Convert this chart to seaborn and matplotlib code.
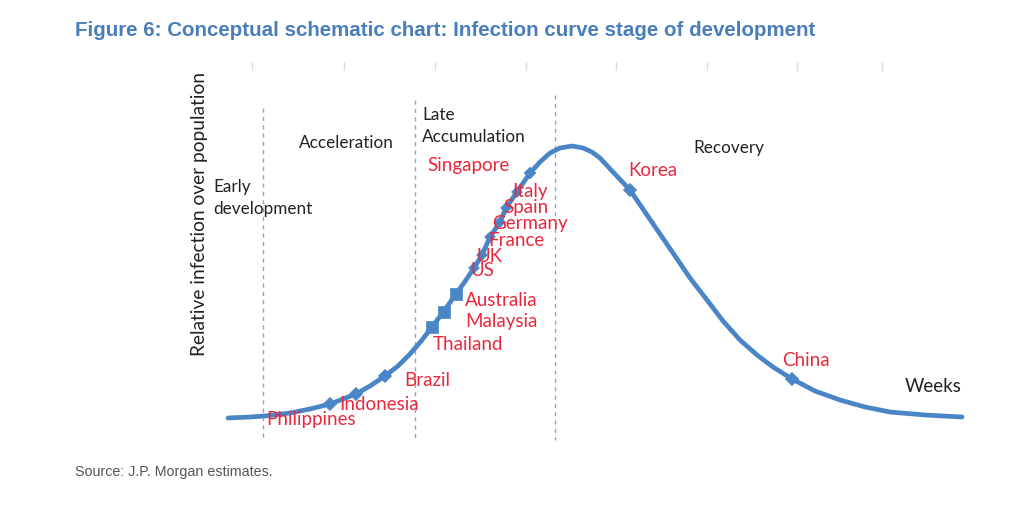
import numpy as np
import matplotlib
matplotlib.use("Agg")
import matplotlib.pyplot as plt
import pandas as pd
import seaborn as sns

# curve (x = time axis, y = height on page, downwards)
curve_x = [228, 250, 265, 290, 310, 330, 356, 370, 385, 398, 410, 422, 432, 444, 456, 466,
           474, 482, 490, 500, 506, 517, 530, 540, 550, 560, 572, 583, 592, 600, 613, 630,
           645, 660, 673, 690, 707, 723, 740, 757, 773, 792, 815, 840, 865, 890, 925, 962]
curve_y = [418, 417, 416, 413, 409, 404, 394, 386, 376, 366, 354, 340, 327, 311, 294, 280,
           268, 255, 237, 222, 208, 192, 173, 162, 153, 148, 146, 148, 152, 158, 172, 190,
           212, 234, 253, 278, 300, 321, 340, 355, 367, 379, 391, 400, 407, 412, 415, 417]

# countries on the curve
countries = ["Philippines", "Indonesia", "Brazil", "Thailand", "Malaysia", "Australia",
             "US", "UK", "France", "Germany", "Spain", "Italy", "Singapore", "Korea", "China"]
country_x = [330, 356, 385, 432, 444, 456, 474, 482, 490, 500, 506, 517, 530, 630, 792]
country_y = [404, 394, 376, 327, 312, 294, 268, 255, 237, 222, 208, 192, 173, 190, 379]
marker_kind = ["D", "D", "D", "s", "s", "s", "D", "D", "D", "D", "D", "D", "D", "D", "D"]
marker_size = [45, 45, 45, 75, 75, 75, 30, 30, 30, 30, 30, 30, 35, 45, 45]
label_x = [266, 339, 404, 433, 465, 465, 471, 476, 488, 492, 503, 512, 427, 628, 782]
label_y = [420, 404, 380, 344, 322, 301, 271, 256, 240, 224, 207, 191, 165, 171, 361]

# stage boundaries and labels
stage_x = [263, 415, 555]
stage_top = [108, 100, 95]
stages = ["Early\ndevelopment", "Acceleration", "Late\nAccumulation", "Recovery"]
stage_lx = [213, 299, 422, 693]
stage_ly = [198, 143, 126, 148]

top_ticks = [252, 344, 435, 526, 616, 707, 797, 882]

blue = "#4a86c5"
red = "#e8283c"

sns.set_theme(style="white")
plt.rcParams["font.family"] = ["Lato", "DejaVu Sans"]

fig = plt.figure(figsize=(10.24, 5.07), dpi=100)
ax = fig.add_axes([0, 0, 1, 1])
ax.set_xlim(0, 1024)
ax.set_ylim(507, 0)
ax.axis("off")

for sx, st in zip(stage_x, stage_top):
    ax.plot([sx, sx], [st, 440], ls=(0, (3, 3)), color="#8aa6cc", lw=1.0)

for tx in top_ticks:
    ax.plot([tx, tx], [62, 70], color="#dcdcdc", lw=1.0)

df = pd.DataFrame({"x": curve_x, "y": curve_y})
sns.lineplot(data=df, x="x", y="y", sort=False, ax=ax, color=blue, lw=3.4,
             solid_capstyle="round", solid_joinstyle="round")

pts = pd.DataFrame({"x": country_x, "y": country_y, "m": marker_kind, "s": marker_size})
for m in ["D", "s"]:
    sub = pts[pts["m"] == m]
    sns.scatterplot(data=sub, x="x", y="y", marker=m, s=sub["s"], color=blue,
                    edgecolor=blue, linewidth=0.5, ax=ax, zorder=5)

for name, lx, ly in zip(countries, label_x, label_y):
    ax.text(lx, ly, name, color=red, fontsize=13.5, va="center", ha="left", zorder=6)

for name, lx, ly in zip(stages, stage_lx, stage_ly):
    ax.text(lx, ly, name, color="#222222", fontsize=12.3, va="center", ha="left",
            linespacing=1.4)

ax.text(905, 387, "Weeks", color="#222222", fontsize=13.5, va="center", ha="left")
ax.text(200, 214, "Relative infection over population", rotation=90, fontsize=13.8,
        color="#222222", va="center", ha="center")

fig.text(75 / 1024, 1 - 30 / 507, "Figure 6: Conceptual schematic chart: Infection curve stage of development",
         family=["Liberation Sans", "DejaVu Sans"], fontweight="bold", fontsize=14.8,
         color="#4a7ebb", va="center", ha="left")
fig.text(75 / 1024, 1 - 472 / 507, "Source: J.P. Morgan estimates.",
         family=["Liberation Sans", "DejaVu Sans"], fontsize=10.3, color="#555555",
         va="center", ha="left")

fig.savefig("out.png", dpi=100)
